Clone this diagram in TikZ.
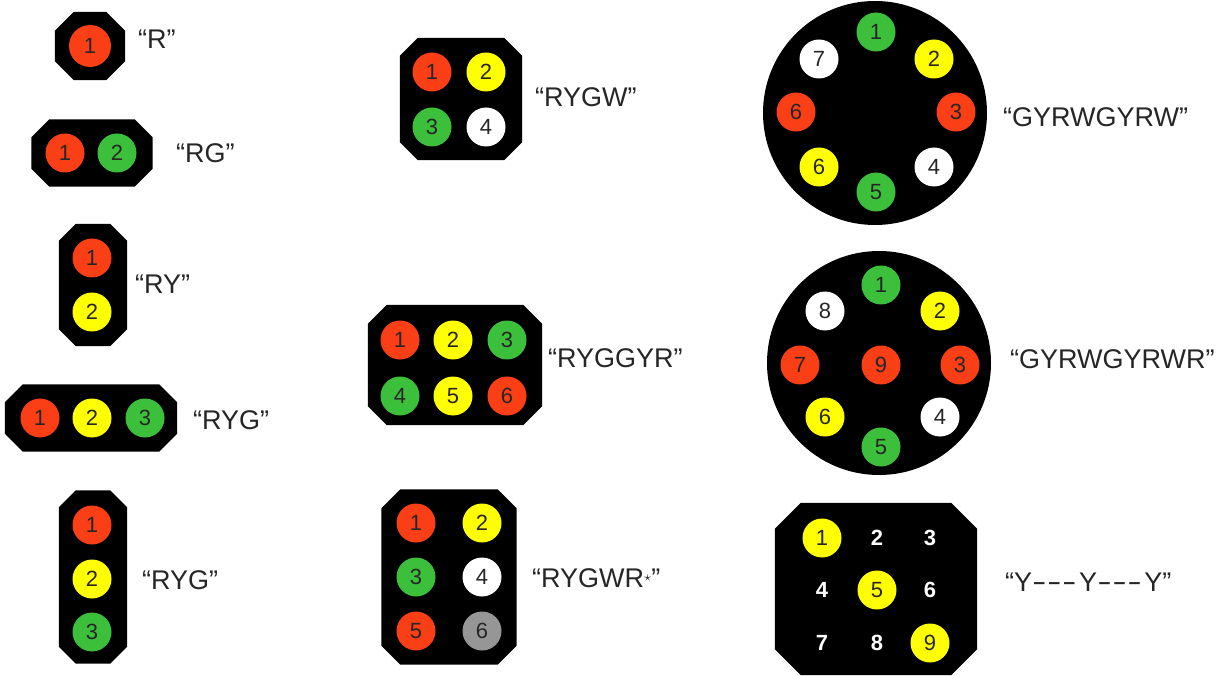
\documentclass[tikz,border=0pt]{standalone}
\usepackage{fontspec}
\usepackage{graphicx}
\setmainfont{Liberation Sans}
\definecolor{lampred}{RGB}{250,62,22}
\definecolor{lampyellow}{RGB}{255,255,0}
\definecolor{lampgreen}{RGB}{60,192,60}
\definecolor{lampgray}{RGB}{150,150,150}
% octagonal housing round a named frame node
\newcommand\octo[2]{\fill[black] ([xshift=#2]#1.north west) -- ([xshift=-#2]#1.north east)
  -- ([yshift=-#2]#1.north east) -- ([yshift=#2]#1.south east) -- ([xshift=-#2]#1.south east)
  -- ([xshift=#2]#1.south west) -- ([yshift=#2]#1.south west) -- ([yshift=-#2]#1.north west) -- cycle;}
\newcommand\sdash{\scalebox{0.7}[1.15]{\textendash}\kern4.5pt}

\begin{document}
\begin{tikzpicture}[x=1pt,y=-1pt,
frame/.style={rectangle,inner sep=0pt},
dial/.style={circle,fill=black,inner sep=0pt,minimum size=224pt},
lamp/.style={circle,inner sep=0pt,minimum size=39pt,text=black!85,
  font=\fontsize{22}{22}\selectfont},
redlamp/.style={lamp,fill=lampred},
yellowlamp/.style={lamp,fill=lampyellow},
greenlamp/.style={lamp,fill=lampgreen},
whitelamp/.style={lamp,fill=white},
graylamp/.style={lamp,fill=lampgray},
blank/.style={lamp,text=white,font=\fontsize{22}{22}\selectfont\bfseries},
tag/.style={anchor=west,inner sep=0pt,text=black!85,font=\fontsize{27}{27}\selectfont}]
\useasboundingbox[fill=white] (0,0) rectangle (1226,676);
% left column
\node[frame,minimum width=70pt,minimum height=68pt] (hR) at (90,46) {};
\octo{hR}{19pt}
\node[redlamp,minimum size=42pt] (R1) at (90,46) {1};
\node[tag] (tR) at (138,39) {``R''};
\node[frame,minimum width=121pt,minimum height=67pt] (hRG) at (92,153) {};
\octo{hRG}{18pt}
\node[redlamp] (RG1) at (65,153) {1};
\node[greenlamp] (RG2) at (117,153) {2};
\node[tag] (tRG) at (176,153) {``RG''};
\node[frame,minimum width=68pt,minimum height=122pt] (hRY) at (93,285) {};
\octo{hRY}{17pt}
\node[redlamp] (RY1) at (92,258) {1};
\node[yellowlamp] (RY2) at (92,312) {2};
\node[tag] (tRY) at (135,284) {``RY''};
\node[frame,minimum width=172pt,minimum height=67pt] (hRYGh) at (91,418) {};
\octo{hRYGh}{18pt}
\node[redlamp] (RYGh1) at (40,418) {1};
\node[yellowlamp] (RYGh2) at (92,418) {2};
\node[greenlamp] (RYGh3) at (145,418) {3};
\node[tag] (tRYGh) at (193,420) {``RYG''};
\node[frame,minimum width=68pt,minimum height=173pt] (hRYGv) at (93,577) {};
\octo{hRYGv}{17pt}
\node[redlamp] (RYGv1) at (92,525) {1};
\node[yellowlamp] (RYGv2) at (92,579) {2};
\node[greenlamp] (RYGv3) at (92,632) {3};
\node[tag] (tRYGv) at (142,580) {``RYG''};
% middle column
\node[frame,minimum width=122pt,minimum height=122pt] (hRYGW) at (461,99) {};
\octo{hRYGW}{18pt}
\node[redlamp] (RYGW1) at (432,72) {1};
\node[yellowlamp] (RYGW2) at (486,72) {2};
\node[greenlamp] (RYGW3) at (432,127) {3};
\node[whitelamp] (RYGW4) at (486,127) {4};
\node[tag] (tRYGW) at (535,97) {``RYGW''};
\node[frame,minimum width=174pt,minimum height=120pt] (hRYGGYR) at (455,365) {};
\octo{hRYGGYR}{19pt}
\node[redlamp] (RYGGYR1) at (400,340) {1};
\node[yellowlamp] (RYGGYR2) at (453,340) {2};
\node[greenlamp] (RYGGYR3) at (507,340) {3};
\node[greenlamp] (RYGGYR4) at (400,396) {4};
\node[yellowlamp] (RYGGYR5) at (453,396) {5};
\node[redlamp] (RYGGYR6) at (507,396) {6};
\node[tag] (tRYGGYR) at (548,358) {``RYGGYR''};
\node[frame,minimum width=135pt,minimum height=175pt] (hRYGWR) at (449,577) {};
\octo{hRYGWR}{19pt}
\node[redlamp] (RYGWR1) at (416,523) {1};
\node[yellowlamp] (RYGWR2) at (482,523) {2};
\node[greenlamp] (RYGWR3) at (416,577) {3};
\node[whitelamp] (RYGWR4) at (482,577) {4};
\node[redlamp] (RYGWR5) at (416,631) {5};
\node[graylamp] (RYGWR6) at (482,631) {6};
\node[tag] (tRYGWR) at (532,578) {``RYGWR\raisebox{6pt}{\fontsize{15}{15}\selectfont$\star$}''};
% right column
\node[dial] (dA) at (875,113) {};
\node[greenlamp] (A1) at (876,32) {1};
\node[yellowlamp] (A2) at (934,59) {2};
\node[redlamp] (A3) at (956,112) {3};
\node[whitelamp] (A4) at (934,167) {4};
\node[greenlamp] (A5) at (876,192) {5};
\node[yellowlamp] (A6) at (819,167) {6};
\node[redlamp] (A6b) at (796,112) {6};
\node[whitelamp] (A7) at (819,59) {7};
\node[tag] (tA) at (1003,117) {``GYRWGYRW''};
\node[dial] (dB) at (879,363) {};
\node[greenlamp] (B1) at (881,285) {1};
\node[yellowlamp] (B2) at (940,311) {2};
\node[redlamp] (B3) at (960,365) {3};
\node[whitelamp] (B4) at (940,417) {4};
\node[greenlamp] (B5) at (881,447) {5};
\node[yellowlamp] (B6) at (825,417) {6};
\node[redlamp] (B7) at (800,365) {7};
\node[whitelamp] (B8) at (825,311) {8};
\node[redlamp] (B9) at (881,365) {9};
\node[tag] (tB) at (1010,359) {``GYRWGYRWR''};
\node[frame,minimum width=202pt,minimum height=172pt] (hC) at (876,589) {};
\octo{hC}{26pt}
\node[yellowlamp] (C1) at (822,538) {1};
\node[blank] (C2) at (877,538) {2};
\node[blank] (C3) at (930,538) {3};
\node[blank] (C4) at (822,590) {4};
\node[yellowlamp] (C5) at (877,590) {5};
\node[blank] (C6) at (930,590) {6};
\node[blank] (C7) at (822,643) {7};
\node[blank] (C8) at (877,643) {8};
\node[yellowlamp] (C9) at (930,643) {9};
\node[tag] (tC) at (1005,582) {``Y\kern2pt\sdash\sdash\sdash Y\kern2pt\sdash\sdash\sdash Y''};
\end{tikzpicture}
\end{document}
